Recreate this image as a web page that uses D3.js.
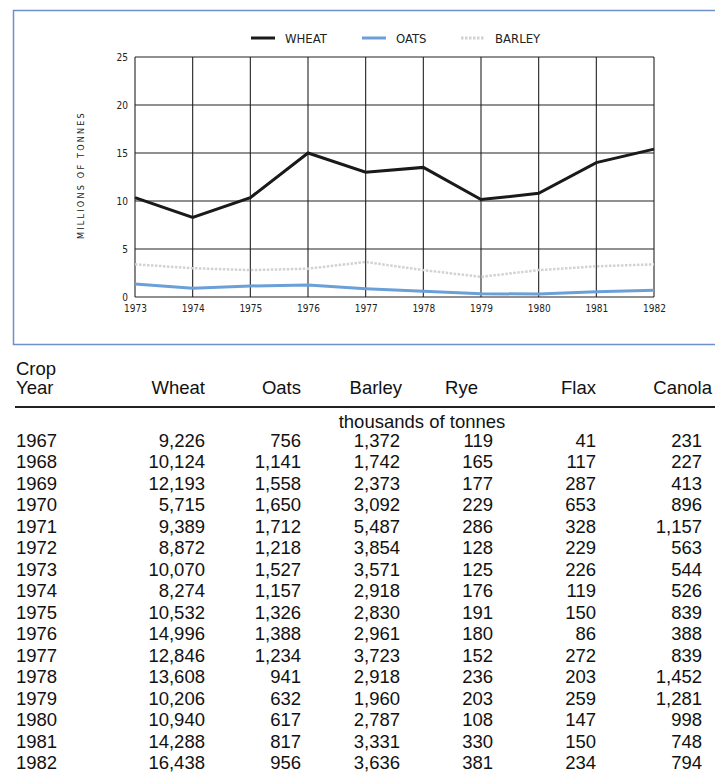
<!DOCTYPE html>
<html>
<head>
<meta charset="utf-8">
<script src="https://cdn.jsdelivr.net/npm/d3@7"></script>
<style>
  body { margin: 0; background: #fff; }
  svg { display: block; }
</style>
</head>
<body>
<svg id="chart"></svg>
<script>
// chart data (millions of tonnes)
var years = [1973, 1974, 1975, 1976, 1977, 1978, 1979, 1980, 1981, 1982];
var wheat = [10.35, 8.3, 10.35, 15.0, 13.0, 13.5, 10.15, 10.8, 14.0, 15.4];
var oats = [1.35, 0.9, 1.15, 1.25, 0.87, 0.6, 0.35, 0.3, 0.55, 0.7];
var barley = [3.4, 3.0, 2.8, 2.95, 3.65, 2.8, 2.1, 2.8, 3.2, 3.4];
var yTicks = [0, 5, 10, 15, 20, 25];

// table data (thousands of tonnes)
var tableHeaders = ["Wheat", "Oats", "Barley", "Rye", "Flax", "Canola"];
var tableYears = ["1967", "1968", "1969", "1970", "1971", "1972", "1973", "1974",
  "1975", "1976", "1977", "1978", "1979", "1980", "1981", "1982"];
var tWheat = ["9,226", "10,124", "12,193", "5,715", "9,389", "8,872", "10,070", "8,274",
  "10,532", "14,996", "12,846", "13,608", "10,206", "10,940", "14,288", "16,438"];
var tOats = ["756", "1,141", "1,558", "1,650", "1,712", "1,218", "1,527", "1,157",
  "1,326", "1,388", "1,234", "941", "632", "617", "817", "956"];
var tBarley = ["1,372", "1,742", "2,373", "3,092", "5,487", "3,854", "3,571", "2,918",
  "2,830", "2,961", "3,723", "2,918", "1,960", "2,787", "3,331", "3,636"];
var tRye = ["119", "165", "177", "229", "286", "128", "125", "176",
  "191", "180", "152", "236", "203", "108", "330", "381"];
var tFlax = ["41", "117", "287", "653", "328", "229", "226", "119",
  "150", "86", "272", "203", "259", "147", "150", "234"];
var tCanola = ["231", "227", "413", "896", "1,157", "563", "544", "526",
  "839", "388", "839", "1,452", "1,281", "998", "748", "794"];

var width = 715, height = 774;
var svg = d3.select("#chart").attr("width", width).attr("height", height);

// outer frame of the graph
svg.append("path")
  .attr("d", "M 722 10.5 L 13.5 10.5 L 13.5 344.5 L 722 344.5")
  .attr("fill", "none")
  .attr("stroke", "#6f8fcb")
  .attr("stroke-width", 1.5);

var x = d3.scaleLinear().domain([1973, 1982]).range([135, 654]);
var y = d3.scaleLinear().domain([0, 25]).range([297, 57]);

var gridFont = "'DejaVu Sans Condensed', 'DejaVu Sans', sans-serif";

// grid
svg.append("g").selectAll("line.h")
  .data(yTicks).enter().append("line")
  .attr("x1", x(1973)).attr("x2", x(1982))
  .attr("y1", function (d) { return y(d); })
  .attr("y2", function (d) { return y(d); })
  .attr("stroke", "#222").attr("stroke-width", 1.1);

svg.append("g").selectAll("line.v")
  .data(years).enter().append("line")
  .attr("x1", function (d) { return x(d); })
  .attr("x2", function (d) { return x(d); })
  .attr("y1", y(25)).attr("y2", y(0))
  .attr("stroke", "#222").attr("stroke-width", 1.1);

// axes (labels only)
var yAxis = svg.append("g")
  .attr("transform", "translate(" + x(1973) + ",0)")
  .call(d3.axisLeft(y).tickValues(yTicks).tickSize(0).tickPadding(7));
yAxis.select(".domain").remove();
yAxis.selectAll("text").attr("font-family", gridFont).attr("font-size", 10).attr("fill", "#222");

var xAxis = svg.append("g")
  .attr("transform", "translate(0," + y(0) + ")")
  .call(d3.axisBottom(x).tickValues(years).tickFormat(d3.format("d")).tickSize(0).tickPadding(8));
xAxis.select(".domain").remove();
xAxis.selectAll("text").attr("font-family", gridFont).attr("font-size", 10).attr("fill", "#222");

svg.append("text")
  .attr("transform", "translate(84,175) rotate(-90)")
  .attr("text-anchor", "middle")
  .attr("font-family", gridFont)
  .attr("font-size", 9)
  .attr("letter-spacing", 2.2)
  .attr("fill", "#222")
  .text("MILLIONS  OF  TONNES");

// lines
var series = [
  { name: "WHEAT", values: wheat, color: "#1a1a1a", width: 3, dash: null },
  { name: "OATS", values: oats, color: "#6b9fd8", width: 3, dash: null },
  { name: "BARLEY", values: barley, color: "#d2d2d2", width: 2.5, dash: "2.5,1.5" }
];

var line = d3.line()
  .x(function (d, i) { return x(years[i]); })
  .y(function (d) { return y(d); });

series.slice().reverse().forEach(function (s) {
  svg.append("path")
    .datum(s.values)
    .attr("d", line)
    .attr("fill", "none")
    .attr("stroke", s.color)
    .attr("stroke-width", s.width)
    .attr("stroke-linejoin", "miter")
    .attr("stroke-dasharray", s.dash);
});

// legend
var legendX = [251, 362, 461];
series.forEach(function (s, i) {
  svg.append("line")
    .attr("x1", legendX[i]).attr("x2", legendX[i] + 24)
    .attr("y1", 38).attr("y2", 38)
    .attr("stroke", s.color).attr("stroke-width", 3)
    .attr("stroke-dasharray", s.dash);
  svg.append("text")
    .attr("x", legendX[i] + 34).attr("y", 42.5)
    .attr("font-family", gridFont)
    .attr("font-size", 13)
    .attr("fill", "#222")
    .text(s.name);
});

// table
var tableFont = "'Liberation Sans', Arial, sans-serif";
var tableSize = 18.5;
var colRight = [205, 301, 400, 493, 596, 702];
var headRight = [205, 301, 402, 478, 596, 712];
var columns = [tWheat, tOats, tBarley, tRye, tFlax, tCanola];

svg.append("text").attr("x", 16).attr("y", 375)
  .attr("font-family", tableFont).attr("font-size", tableSize).attr("fill", "#111").text("Crop");
svg.append("text").attr("x", 16).attr("y", 394)
  .attr("font-family", tableFont).attr("font-size", tableSize).attr("fill", "#111").text("Year");

svg.append("g").selectAll("text")
  .data(tableHeaders).enter().append("text")
  .attr("x", function (d, i) { return headRight[i]; })
  .attr("y", 394)
  .attr("text-anchor", "end")
  .attr("font-family", tableFont).attr("font-size", tableSize).attr("fill", "#111")
  .text(function (d) { return d; });

svg.append("line")
  .attr("x1", 15).attr("x2", 715)
  .attr("y1", 407).attr("y2", 407)
  .attr("stroke", "#222").attr("stroke-width", 2);

svg.append("text").attr("x", 422).attr("y", 428)
  .attr("text-anchor", "middle")
  .attr("font-family", tableFont).attr("font-size", tableSize).attr("fill", "#111")
  .text("thousands of tonnes");

var rowY = d3.scalePoint().domain(tableYears).range([447, 769]);

svg.append("g").selectAll("text")
  .data(tableYears).enter().append("text")
  .attr("x", 16)
  .attr("y", function (d) { return rowY(d); })
  .attr("font-family", tableFont).attr("font-size", tableSize).attr("fill", "#111")
  .text(function (d) { return d; });

columns.forEach(function (col, c) {
  svg.append("g").selectAll("text")
    .data(col).enter().append("text")
    .attr("x", colRight[c])
    .attr("y", function (d, i) { return rowY(tableYears[i]); })
    .attr("text-anchor", "end")
    .attr("font-family", tableFont).attr("font-size", tableSize).attr("fill", "#111")
    .text(function (d) { return d; });
});
</script>
</body>
</html>
